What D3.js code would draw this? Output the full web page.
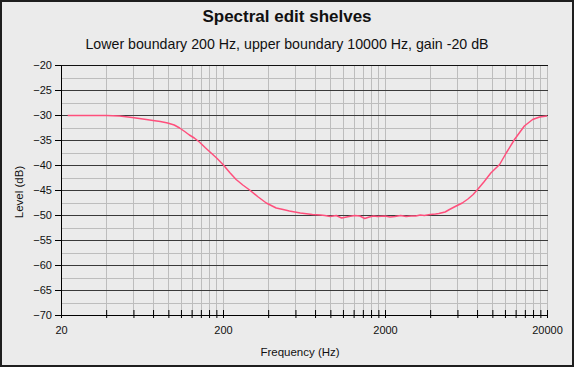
<!DOCTYPE html>
<html>
<head>
<meta charset="utf-8">
<script src="https://cdn.jsdelivr.net/npm/d3@7"></script>
<style>
  body { margin: 0; background: #ebebeb; }
  svg { display: block; font-family: 'Liberation Sans', Arial, Helvetica, sans-serif; }
</style>
</head>
<body>
<div id="chart-container"></div>
<script>
const WIDTH = 574;
const HEIGHT = 367;
const PLOT = { left: 61, right: 547, top: 65, bottom: 315 };

const TITLE = 'Spectral edit shelves';
const SUBTITLE = 'Lower boundary 200 Hz, upper boundary 10000 Hz, gain -20 dB';
const X_LABEL = 'Frequency (Hz)';
const Y_LABEL = 'Level (dB)';

const X_DOMAIN = [20, 20000];
const Y_DOMAIN = [-70, -20];
const X_MAJOR_TICKS = [20, 200, 2000, 20000];
const Y_TICKS = [-20, -25, -30, -35, -40, -45, -50, -55, -60, -65, -70];

const FREQS = [22, 30, 38, 46, 55, 64, 74, 82, 91, 100, 108, 116, 124, 133, 143, 155, 169, 184, 200,
  220, 241, 265, 292, 330, 370, 426, 470, 514, 600, 713, 800, 850, 920, 1000, 1080, 1200, 1300, 1400,
  1500, 1600, 1700, 1800, 2000, 2150, 2300, 2500, 2700, 2900, 3100, 3300, 3500, 3800, 4100, 4300, 4700,
  5000, 5500, 6000, 6500, 7000, 7500, 8200, 9000, 10200, 11200, 12600, 14500, 16300, 18000, 20000];
const LEVELS = [-30.1, -30.1, -30.1, -30.2, -30.5, -30.8, -31.1, -31.3, -31.6, -32.0, -32.6, -33.3, -34.0, -34.6, -35.4, -36.5, -37.6, -38.7, -39.9,
  -41.5, -42.9, -44.0, -45.0, -46.4, -47.6, -48.6, -48.9, -49.2, -49.6, -49.9, -50.0, -50.1, -50.3, -50.1, -50.6, -50.3, -50.1, -50.2,
  -50.7, -50.4, -50.2, -50.3, -50.2, -50.4, -50.3, -50.1, -50.3, -50.2, -50.2, -50.0, -50.1, -49.9, -49.8, -49.7, -49.4,
  -48.9, -48.2, -47.6, -46.8, -45.9, -44.8, -43.3, -41.6, -39.9, -37.6, -34.9, -32.2, -30.9, -30.4, -30.2];

const x = d3.scaleLog().domain(X_DOMAIN).range([PLOT.left, PLOT.right]);
const y = d3.scaleLinear().domain(Y_DOMAIN).range([PLOT.bottom, PLOT.top]);

// each decade is split into ten equal linear steps
const xMinorTicks = [];
X_MAJOR_TICKS.slice(0, -1).forEach(d => {
  for (let k = 0; k < 10; k++) xMinorTicks.push(d + k * d * 0.9);
});
xMinorTicks.push(X_MAJOR_TICKS[X_MAJOR_TICKS.length - 1]);

const yMinorTicks = Y_TICKS.slice(1).map(v => v + 2.5);

const svg = d3.select('#chart-container').append('svg')
  .attr('width', WIDTH)
  .attr('height', HEIGHT);

svg.append('rect')
  .attr('x', 1).attr('y', 1)
  .attr('width', WIDTH - 2).attr('height', HEIGHT - 2)
  .attr('fill', '#ebebeb')
  .attr('stroke', '#1e1e1e')
  .attr('stroke-width', 2);

svg.append('text')
  .attr('x', WIDTH / 2).attr('y', 22)
  .attr('text-anchor', 'middle')
  .attr('font-size', 17).attr('font-weight', 'bold')
  .attr('fill', '#111')
  .text(TITLE);

svg.append('text')
  .attr('x', WIDTH / 2).attr('y', 49)
  .attr('text-anchor', 'middle')
  .attr('font-size', 14.2)
  .attr('fill', '#111')
  .text(SUBTITLE);

const grid = svg.append('g');
grid.selectAll('line.vgrid')
  .data(xMinorTicks.slice(1))
  .enter().append('line')
  .attr('class', 'vgrid')
  .attr('x1', d => Math.round(x(d)) + 0.5).attr('x2', d => Math.round(x(d)) + 0.5)
  .attr('y1', PLOT.top).attr('y2', PLOT.bottom)
  .attr('stroke', '#bdbdbd');
grid.selectAll('line.hminor')
  .data(yMinorTicks)
  .enter().append('line')
  .attr('class', 'hminor')
  .attr('x1', PLOT.left).attr('x2', PLOT.right + 0.5)
  .attr('y1', d => Math.round(y(d)) + 0.5).attr('y2', d => Math.round(y(d)) + 0.5)
  .attr('stroke', '#bdbdbd');
grid.selectAll('line.hmajor')
  .data(Y_TICKS.slice(0, -1))
  .enter().append('line')
  .attr('class', 'hmajor')
  .attr('x1', PLOT.left).attr('x2', PLOT.right + 1)
  .attr('y1', d => Math.round(y(d)) + 0.5).attr('y2', d => Math.round(y(d)) + 0.5)
  .attr('stroke', (d, i) => i === 0 ? '#111' : '#3a3a3a');

const yAxis = svg.append('g')
  .attr('transform', `translate(${PLOT.left}, 0)`)
  .call(d3.axisLeft(y).tickValues(Y_TICKS).tickSize(6).tickSizeOuter(0).tickPadding(3));
yAxis.selectAll('text').attr('font-size', 11).attr('fill', '#111').attr('font-family', null);
yAxis.selectAll('line, path').attr('stroke', '#000');

const xAxis = svg.append('g')
  .attr('transform', `translate(0, ${PLOT.bottom})`)
  .call(d3.axisBottom(x)
    .tickValues(xMinorTicks)
    .tickFormat(d => X_MAJOR_TICKS.includes(d) ? d : '')
    .tickSize(3).tickSizeOuter(0).tickPadding(8));
xAxis.selectAll('.tick line').attr('y1', -5);
xAxis.selectAll('text').attr('font-size', 11).attr('fill', '#111').attr('font-family', null);
xAxis.selectAll('line, path').attr('stroke', '#000');

svg.append('text')
  .attr('x', 300).attr('y', 356)
  .attr('text-anchor', 'middle')
  .attr('font-size', 11.5)
  .attr('fill', '#111')
  .text(X_LABEL);

svg.append('text')
  .attr('transform', 'translate(23, 192) rotate(-90)')
  .attr('text-anchor', 'middle')
  .attr('font-size', 11.5)
  .attr('fill', '#111')
  .text(Y_LABEL);

const line = d3.line()
  .x((d, i) => x(FREQS[i]))
  .y(d => y(d));

svg.append('path')
  .datum(LEVELS)
  .attr('d', line)
  .attr('fill', 'none')
  .attr('stroke', '#ff4f7c')
  .attr('stroke-width', 1.5)
  .attr('stroke-linejoin', 'round');
</script>
</body>
</html>
